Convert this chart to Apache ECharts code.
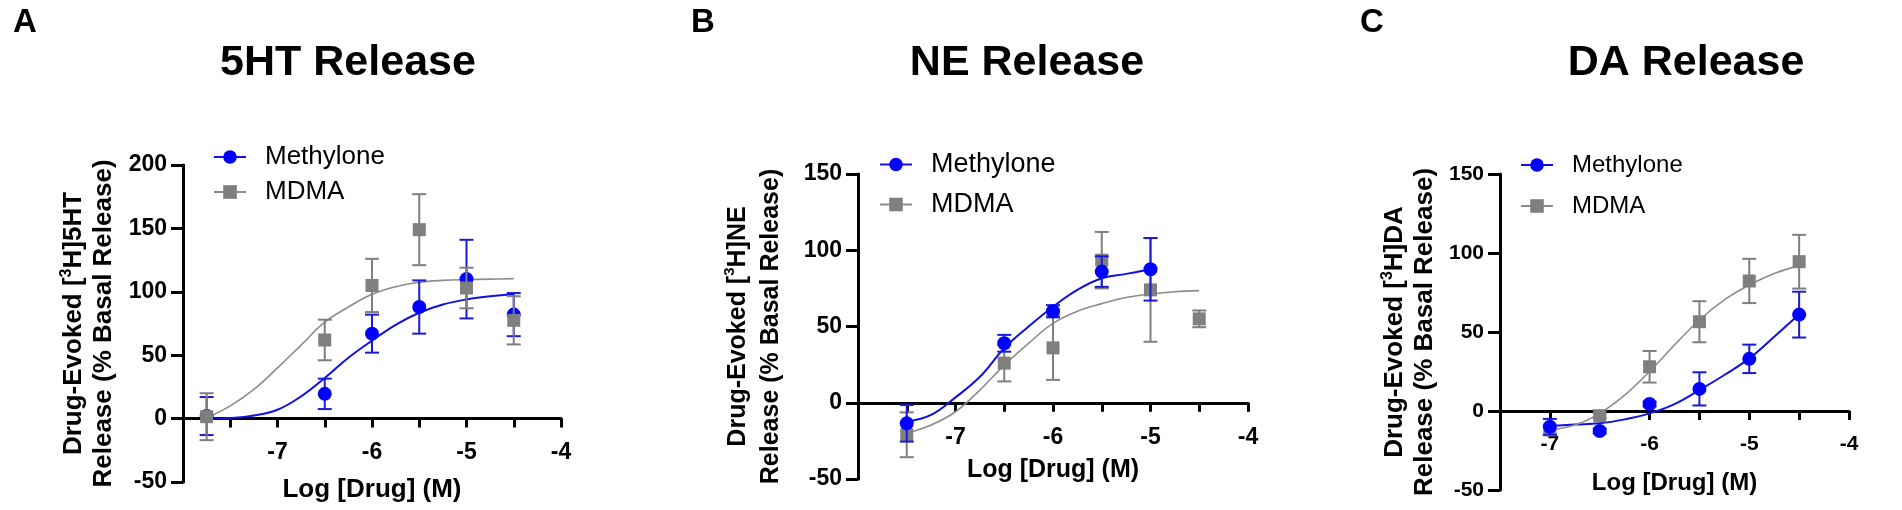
<!DOCTYPE html>
<html><head><meta charset="utf-8">
<script src="https://cdn.jsdelivr.net/npm/echarts@6/dist/echarts.min.js"></script>
<style>html,body{margin:0;padding:0;background:#fff}#c{width:1902px;height:510px}</style>
</head><body><div id="c"></div>
<script>
const FONT = '"Liberation Sans", Arial, Helvetica, sans-serif';
const BLUE = '#0000ff', BLUE_ERR = '#1a1ad6', GREY = '#7f7f7f', GREY_LINE = '#8c8c8c';

// ---------- Panel A : 5HT ----------
const xA = [-7.75, -6.5, -6, -5.5, -5, -4.5];
const methA = [2, 19.5, 67, 88, 110, 82];
const methErrA = [15, 12, 15, 21, 31, 17];
const mdmaA = [1.5, 62, 105, 149, 103, 77.5];
const mdmaErrA = [18.5, 16, 21, 28, 16, 19];
const fitXA = [-7.75, -7.5, -7.25, -7, -6.75, -6.5, -6.25, -6, -5.75, -5.5, -5.25, -5, -4.75, -4.5];
const methFitA = [0, 0.5, 2.5, 7, 17.5, 32, 48, 61.5, 74, 83.5, 90, 94, 96.5, 98];
const mdmaFitA = [0.5, 10, 23, 40, 58, 76, 88, 98, 104, 107.5, 109, 109.6, 110, 110.4];

// ---------- Panel B : NE ----------
const xB = [-7.5, -6.5, -6, -5.5, -5, -4.5];
const methB = [-13.5, 39, 60, 86, 87.5, null];
const methErrB = [12, 5.5, 4, 10, 20.5, null];
const mdmaB = [-21, 26, 36, 93.5, 74, 55];
const mdmaErrB = [14.7, 12, 21, 18.5, 34, 5.5];
const fitXB = [-7.5, -7.25, -7, -6.75, -6.5, -6.25, -6, -5.75, -5.5, -5.25, -5, -4.75, -4.5];
const methFitB = [-12.4, -8, 3.5, 17, 35.7, 50, 63, 74, 81.6, 84.5, 87.5, null, null];
const mdmaFitB = [-20, -14.6, -5.9, 8.3, 24.7, 39, 52, 60, 65, 69, 71.3, 72.8, 73.5];

// ---------- Panel C : DA ----------
const xC = [-7, -6.5, -6, -5.5, -5, -4.5];
const methC = [-10, -12.7, 4.4, 14, 33, 61];
const methErrC = [5, 1.5, 1.5, 10.5, 9, 14.5];
const mdmaC = [-12, -3, 28, 56.5, 82.3, 94.5];
const mdmaErrC = [3, 1.5, 10, 13, 14, 17];
const fitXC = [-7, -6.75, -6.5, -6.25, -6, -5.75, -5.5, -5.25, -5, -4.75, -4.5];
const methFitC = [-9.5, -8.6, -7.8, -5.3, -1.5, 4.4, 13.3, 22.8, 33.3, 47, 61.2];
const mdmaFitC = [-12, -8.9, -1.5, 10, 25, 41.8, 57.6, 70.3, 79.7, 87, 92];

const titles = ['5HT Release', 'NE Release', 'DA Release'];
const letters = ['A', 'B', 'C'];
const yNames = ['5HT', 'NE', 'DA'];
const seriesNames = ['Methylone', 'MDMA'];
const xAxisName = 'Log [Drug] (M)';
const xMins = [-8, -8, -7.5];
const xMax = -4;
const yMin = -50;
const yMaxs = [200, 150, 150];

const panels = [
  {x: xA, m: methA, me: methErrA, d: mdmaA, de: mdmaErrA, fx: fitXA, mf: methFitA, df: mdmaFitA, mdmaTop: true,
   grid: {left: 183, top: 165, width: 378, height: 317}, tick: 23, yname: 26, yGap: 64, yLH: 30, xname: 26, xGap: 58, leg: {left: 208, top: 139, gap: 9, font: 26},
   title: {x: 348}, letter: {x: 13}},
  {x: xB, m: methB, me: methErrB, d: mdmaB, de: mdmaErrB, fx: fitXB, mf: methFitB, df: mdmaFitB, mdmaTop: false,
   grid: {left: 858, top: 174, width: 390, height: 305}, tick: 23, yname: 25, yGap: 70, yLH: 33, xname: 25, xGap: 55, leg: {left: 874, top: 146, gap: 13, font: 27},
   title: {x: 1027}, letter: {x: 691}},
  {x: xC, m: methC, me: methErrC, d: mdmaC, de: mdmaErrC, fx: fitXC, mf: methFitC, df: mdmaFitC, mdmaTop: false,
   grid: {left: 1500, top: 174, width: 349, height: 316}, tick: 21, yname: 26, yGap: 60, yLH: 30, xname: 24, xGap: 60, leg: {left: 1515, top: 148, gap: 17, font: 24},
   title: {x: 1686}, letter: {x: 1360}}
];

function pairs(xs, ys) {
  return xs.map((x, i) => [x, ys[i]]).filter(p => p[1] != null);
}
function triples(xs, ys, es) {
  return xs.map((x, i) => [x, ys[i], es[i]]).filter(p => p[1] != null);
}
function errSeries(ai, name, data, color, z) {
  return {
    type: 'custom', name: name, xAxisIndex: ai, yAxisIndex: ai, z: z, silent: true,
    encode: {x: 0, y: 1},
    data: data,
    renderItem: function (params, api) {
      const x = api.value(0), y = api.value(1), e = api.value(2);
      const t = api.coord([x, y + e]), b = api.coord([x, y - e]);
      const w = 7;
      const st = {stroke: color, lineWidth: 2};
      return {type: 'group', children: [
        {type: 'line', shape: {x1: t[0], y1: t[1], x2: b[0], y2: b[1]}, style: st},
        {type: 'line', shape: {x1: t[0] - w, y1: t[1], x2: t[0] + w, y2: t[1]}, style: st},
        {type: 'line', shape: {x1: b[0] - w, y1: b[1], x2: b[0] + w, y2: b[1]}, style: st}
      ]};
    }
  };
}

const option = {
  animation: false,
  backgroundColor: '#fff',
  textStyle: {fontFamily: FONT},
  grid: [], xAxis: [], yAxis: [], series: [], legend: [], graphic: []
};

panels.forEach((p, i) => {
  const main = 2 * i, xg = 2 * i + 1;
  const xmin = xMins[i], ymax = yMaxs[i];
  // main plotting grid (holds the y axis and every mark)
  option.grid.push(Object.assign({containLabel: false, outerBoundsMode: 'none'}, p.grid));
  // second grid whose bottom edge sits on y = 0 of the main grid: carries the visible x axis
  const zeroFrac = ymax / (ymax - yMin);
  option.grid.push({left: p.grid.left, top: p.grid.top, width: p.grid.width, height: p.grid.height * zeroFrac, containLabel: false, outerBoundsMode: 'none'});

  option.xAxis.push({type: 'value', gridIndex: main, min: xmin, max: xMax, show: false, splitLine: {show: false}});
  option.xAxis.push({
    type: 'value', gridIndex: xg, min: xmin, max: xMax, interval: 0.5,
    splitLine: {show: false},
    axisLine: {onZero: false, lineStyle: {color: '#000', width: 3}},
    axisTick: {length: 9, lineStyle: {color: '#000', width: 3}},
    axisLabel: {margin: 23, color: '#000', fontSize: p.tick, fontWeight: 'bold', fontFamily: FONT,
      formatter: v => (Math.abs(v - Math.round(v)) < 1e-9 && v > xmin + 1e-9) ? String(Math.round(v)) : ''},
    name: xAxisName, nameLocation: 'middle', nameGap: p.xGap,
    nameTextStyle: {color: '#000', fontSize: p.xname, fontWeight: 'bold', fontFamily: FONT}
  });
  option.yAxis.push({
    type: 'value', gridIndex: main, min: yMin, max: ymax, interval: 50,
    splitLine: {show: false},
    axisLine: {show: true, onZero: false, lineStyle: {color: '#000', width: 3}},
    axisTick: {show: true, length: 12, lineStyle: {color: '#000', width: 3}},
    axisLabel: {margin: 16, color: '#000', fontSize: p.tick, fontWeight: 'bold', fontFamily: FONT},
    name: '{b|Drug-Evoked [}{s|3}{b|H]' + yNames[i] + '}\n{b|Release (% Basal Release)}',
    nameLocation: 'middle', nameGap: p.yGap, nameRotate: 90,
    nameTextStyle: {color: '#000', fontFamily: FONT,
      rich: {
        b: {fontSize: p.yname, fontWeight: 'bold', color: '#000', fontFamily: FONT, lineHeight: p.yLH},
        s: {fontSize: Math.round(p.yname * 0.6), fontWeight: 'bold', color: '#000', fontFamily: FONT, lineHeight: p.yLH, verticalAlign: 'top', padding: [0, 0, 6, 0]}
      }}
  });
  option.yAxis.push({type: 'value', gridIndex: xg, min: 0, max: 1, show: false, splitLine: {show: false}});

  const mz = p.mdmaTop ? 4 : 6, dz = p.mdmaTop ? 6 : 4;
  option.series.push(
    {type: 'line', name: seriesNames[0], xAxisIndex: main, yAxisIndex: main, z: 2, smooth: 0.4,
     symbol: 'circle', showSymbol: false, silent: true, color: BLUE,
     lineStyle: {color: '#1010e6', width: 2}, itemStyle: {color: BLUE},
     data: pairs(p.fx, p.mf)},
    {type: 'line', name: seriesNames[1], xAxisIndex: main, yAxisIndex: main, z: 2, smooth: 0.4,
     symbol: 'rect', showSymbol: false, silent: true, color: GREY,
     lineStyle: {color: GREY_LINE, width: 1.6}, itemStyle: {color: GREY},
     data: pairs(p.fx, p.df)},
    errSeries(main, seriesNames[0], triples(p.x, p.m, p.me), BLUE_ERR, mz - 1),
    errSeries(main, seriesNames[1], triples(p.x, p.d, p.de), GREY, dz - 1),
    {type: 'scatter', name: seriesNames[0], xAxisIndex: main, yAxisIndex: main, z: mz, silent: true,
     symbol: 'circle', symbolSize: 14, itemStyle: {color: BLUE, opacity: 1},
     data: pairs(p.x, p.m)},
    {type: 'scatter', name: seriesNames[1], xAxisIndex: main, yAxisIndex: main, z: dz, silent: true,
     symbol: 'rect', symbolSize: 13, itemStyle: {color: GREY, opacity: 1},
     data: pairs(p.x, p.d)}
  );
  option.legend.push({
    orient: 'vertical', left: p.leg.left, top: p.leg.top, itemGap: p.leg.gap,
    itemWidth: 32, itemHeight: 17, selectedMode: false,
    data: seriesNames,
    textStyle: {fontSize: p.leg.font, color: '#000', fontFamily: FONT, padding: [0, 0, 0, 14]}
  });
  option.graphic.push(
    {type: 'text', x: p.title.x, y: 63, silent: true,
     style: {text: titles[i], fontSize: 43, fontWeight: 'bold', fontFamily: FONT, fill: '#000', textAlign: 'center', textVerticalAlign: 'middle'}},
    {type: 'text', x: p.letter.x, y: 23, silent: true,
     style: {text: letters[i], fontSize: 33, fontWeight: 'bold', fontFamily: FONT, fill: '#000', textAlign: 'left', textVerticalAlign: 'middle'}}
  );
});

const chart = echarts.init(document.getElementById('c'), null, {renderer: 'canvas'});
chart.setOption(option);
</script>
</body></html>
